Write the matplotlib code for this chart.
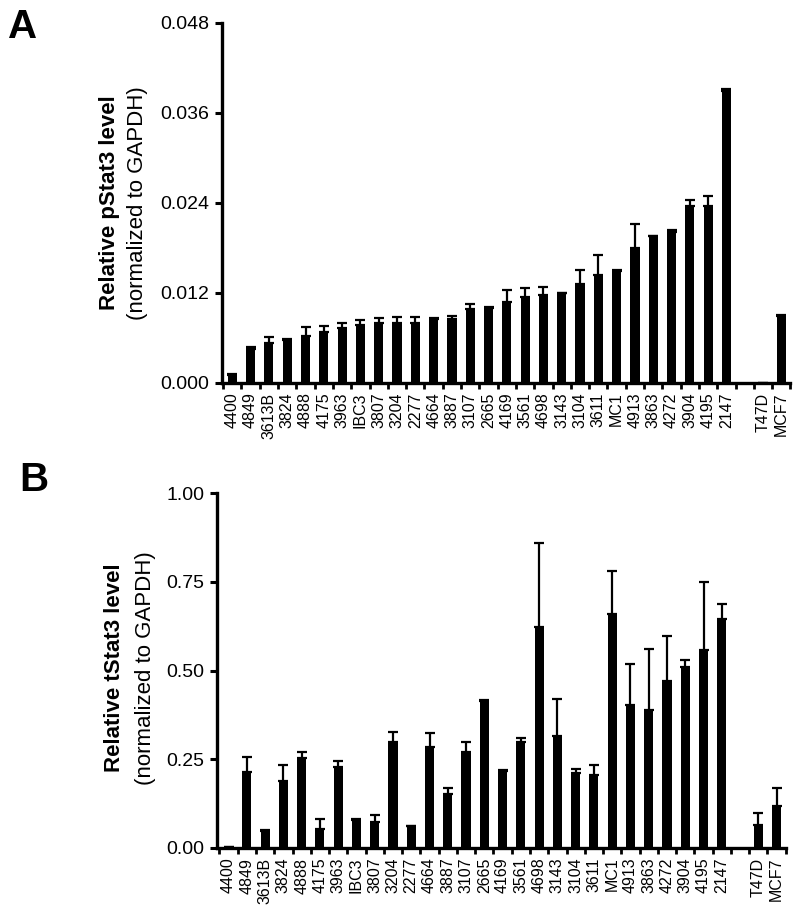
import matplotlib
matplotlib.use("Agg")
import matplotlib.pyplot as plt
import numpy as np

plt.rcParams['font.family'] = ['Liberation Sans', 'DejaVu Sans']

cell_lines = ["4400", "4849", "3613B", "3824", "4888", "4175", "3963", "IBC3", "3807",
              "3204", "2277", "4664", "3887", "3107", "2665", "4169", "3561", "4698",
              "3143", "3104", "3611", "MC1", "4913", "3863", "4272", "3904", "4195", "2147"]
controls = ["T47D", "MCF7"]

pstat3 = [0.0010, 0.0045, 0.0053, 0.0057, 0.0062, 0.0067, 0.0073, 0.0077, 0.0079, 0.0080,
          0.0080, 0.0085, 0.0085, 0.0098, 0.0100, 0.0107, 0.0114, 0.0117, 0.0119, 0.0131,
          0.0143, 0.0149, 0.0180, 0.0195, 0.0201, 0.0235, 0.0236, 0.0389]
pstat3_err = [0.0002, 0.0003, 0.0008, 0.0001, 0.0012, 0.0008, 0.0007, 0.0006, 0.0007, 0.0007,
              0.0008, 0.0001, 0.0004, 0.0007, 0.0001, 0.0017, 0.0012, 0.0011, 0.0001, 0.0019,
              0.0027, 0.0001, 0.0032, 0.0001, 0.0003, 0.0008, 0.0013, 0.0003]
pstat3_ctrl = [0.0, 0.0089]
pstat3_ctrl_err = [0.0, 0.0001]

tstat3 = [0.003, 0.213, 0.048, 0.190, 0.253, 0.053, 0.227, 0.079, 0.072, 0.300,
          0.061, 0.285, 0.153, 0.270, 0.414, 0.217, 0.299, 0.622, 0.315, 0.212,
          0.207, 0.660, 0.404, 0.389, 0.470, 0.511, 0.558, 0.644]
tstat3_err = [0.0, 0.044, 0.002, 0.045, 0.018, 0.030, 0.018, 0.002, 0.020, 0.026,
              0.002, 0.039, 0.015, 0.029, 0.003, 0.004, 0.011, 0.236, 0.106, 0.010,
              0.026, 0.119, 0.115, 0.172, 0.127, 0.019, 0.190, 0.042]
tstat3_ctrl = [0.064, 0.117]
tstat3_ctrl_err = [0.036, 0.053]

labels = cell_lines + controls
n = len(cell_lines)
x = np.concatenate([np.arange(n), np.arange(n + 1, n + 1 + len(controls))])

fig = plt.figure(figsize=(8, 9.15), dpi=100)
axA = fig.add_axes([221.7 / 800, 1 - 382.7 / 915, (790.5 - 221.7) / 800, (382.7 - 22.7) / 915])
axB = fig.add_axes([216.7 / 800, 1 - 848 / 915, (785.7 - 216.7) / 800, (848 - 493) / 915])


def draw(ax, vals, errs, ylim, yticks, fmt, xl):
    vals = np.asarray(vals)
    errs = np.asarray(errs)
    ax.bar(x, vals, width=0.5, color='black', zorder=2)
    ax.errorbar(x, vals, yerr=[np.zeros_like(errs), errs], fmt='none', ecolor='black',
                elinewidth=1.6, capsize=3.6, capthick=1.6, zorder=3)
    ax.set_ylim(*ylim)
    ax.set_xlim(*xl)
    ax.set_yticks(yticks)
    ax.set_yticklabels([fmt.format(t) for t in yticks])
    ax.set_xticks(x)
    ax.set_xticklabels(labels, rotation=90, fontsize=11.5)
    ax.set_xticks(np.arange(-0.5, n + 3, 1.0), minor=True)
    ax.tick_params(axis='x', which='major', length=0, pad=7)
    ax.tick_params(axis='x', which='minor', length=4, width=2, direction='out')
    ax.tick_params(axis='y', which='major', length=5, width=2.2, direction='out',
                   labelsize=14, pad=4)
    for s in ['top', 'right']:
        ax.spines[s].set_visible(False)
    for s in ['left', 'bottom']:
        ax.spines[s].set_linewidth(2.4)
        ax.spines[s].set_capstyle('projecting')


draw(axA, pstat3 + pstat3_ctrl, pstat3_err + pstat3_ctrl_err, (0, 0.048),
     [0.0, 0.012, 0.024, 0.036, 0.048], "{:.3f}", (-0.58, 30.5))
draw(axB, tstat3 + tstat3_ctrl, tstat3_err + tstat3_ctrl_err, (0, 1.0),
     [0.0, 0.25, 0.5, 0.75, 1.0], "{:.2f}", (-0.65, 30.5))

# y labels
fig.text(110 / 800, 1 - 202.7 / 915, "Relative pStat3 level", rotation=90,
         ha='center', va='center', fontsize=16, fontweight='bold')
fig.text(138 / 800, 1 - 202.7 / 915, "(normalized to GAPDH)", rotation=90,
         ha='center', va='center', fontsize=16)
fig.text(115 / 800, 1 - 668 / 915, "Relative tStat3 level", rotation=90,
         ha='center', va='center', fontsize=16, fontweight='bold')
fig.text(145 / 800, 1 - 668 / 915, "(normalized to GAPDH)", rotation=90,
         ha='center', va='center', fontsize=16)

# panel letters
fig.text(8 / 800, 1 - 8 / 915, "A", ha='left', va='top', fontsize=29, fontweight='bold')
fig.text(19 / 800, 1 - 461 / 915, "B", ha='left', va='top', fontsize=29, fontweight='bold')

fig.savefig("out.png", dpi=100)
